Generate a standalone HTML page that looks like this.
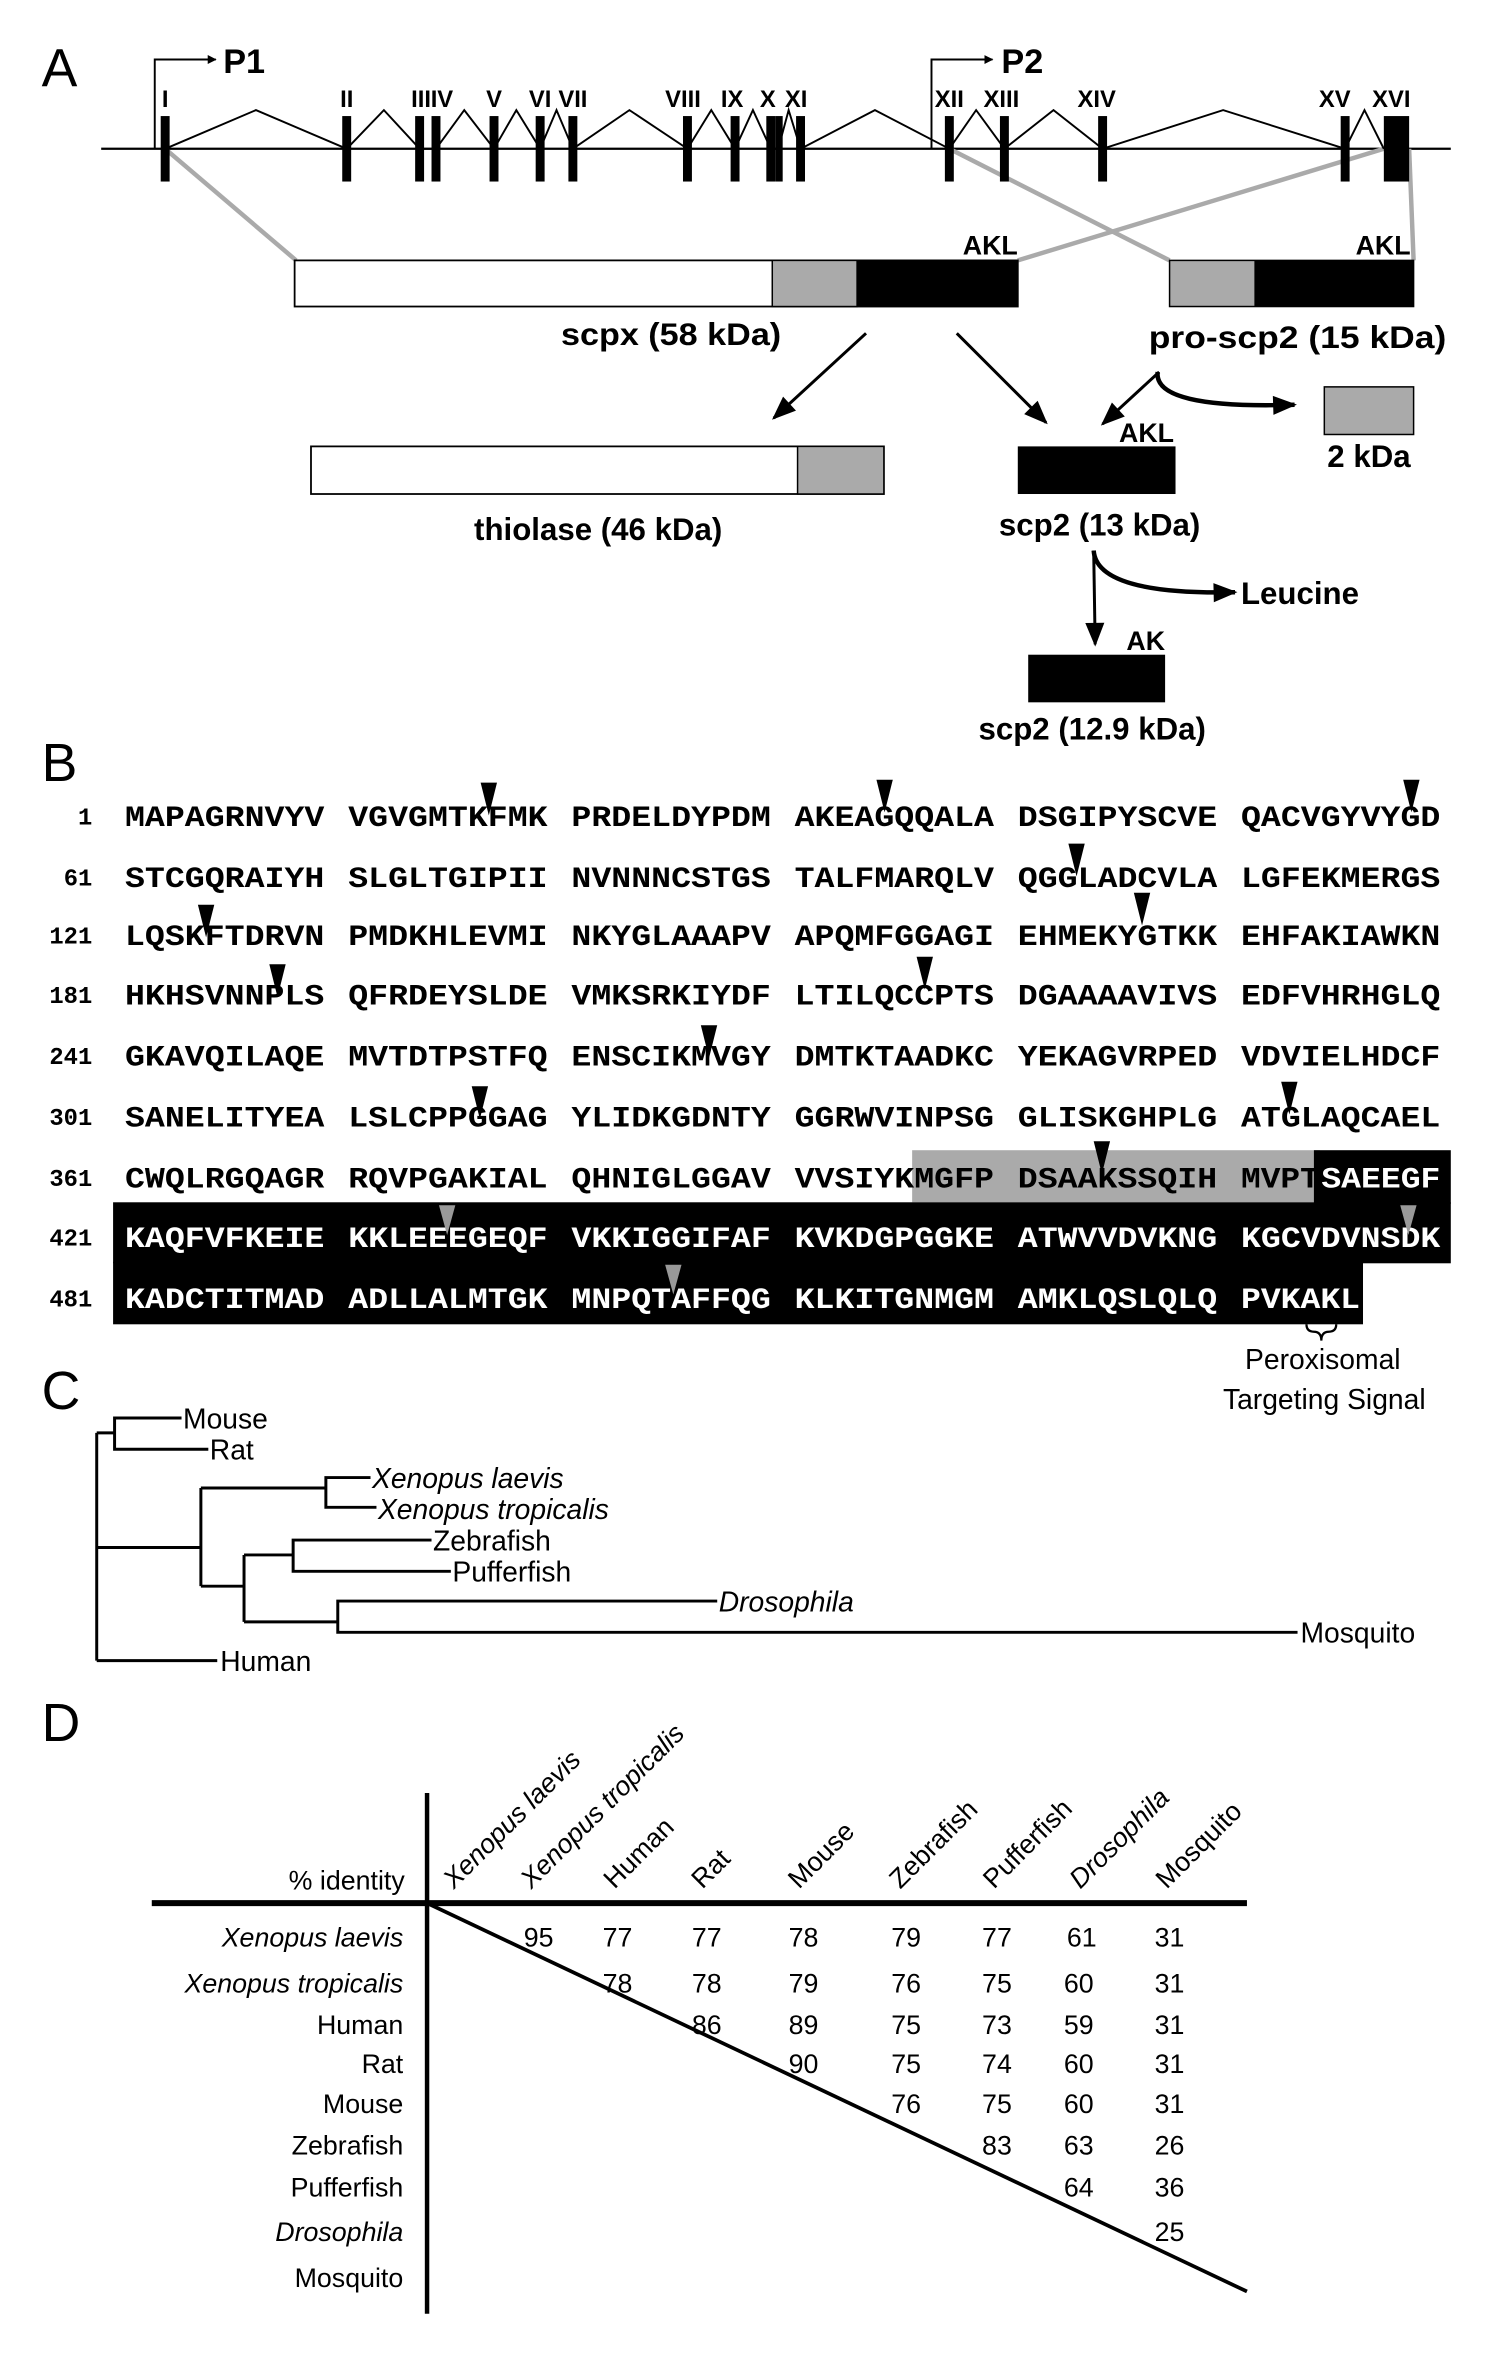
<!DOCTYPE html>
<html><head><meta charset="utf-8">
<style>html,body{margin:0;padding:0;background:#fff}svg{display:block}</style>
</head><body>
<svg xmlns="http://www.w3.org/2000/svg" width="1488" height="2358" viewBox="0 0 1000 1584.7" preserveAspectRatio="none">
<defs>
<marker id="ah" viewBox="0 0 10 10" refX="9" refY="5" markerWidth="6" markerHeight="6" orient="auto" markerUnits="userSpaceOnUse"><path d="M0,0 L10,5 L0,10 z" fill="#000"/></marker>
<marker id="ab" viewBox="0 0 10 10" refX="9" refY="5" markerWidth="20" markerHeight="16" orient="auto" markerUnits="userSpaceOnUse"><path d="M0,1 L10,5 L0,9 z" fill="#000"/></marker>
</defs>
<g font-family="Liberation Sans, sans-serif">
<!-- Panel A -->
<text x="28" y="58" font-size="36">A</text>
<line x1="68" y1="100" x2="975" y2="100" stroke="#000" stroke-width="1.5"/>
<g stroke="#aaa" stroke-width="3">
<line x1="111" y1="100" x2="199" y2="175"/>
<line x1="638" y1="100" x2="786" y2="175"/>
<line x1="930" y1="100" x2="684" y2="175"/>
<line x1="947" y1="100" x2="950" y2="175"/>
</g>
<polyline fill="none" stroke="#000" stroke-width="1.3" points="111,100 172,74 233,100 258,74 282,100 287,100 293,100 312,74 332,100 347,74 363,100 374,74 385,100 423,74 462,100 478,74 494,100 506,74 518,100 523,100 530,74 538,100 588,74 638,100 656,74 675,100 708,74 741,100 822,74 904,100 917,74 930,100"/>
<g fill="#000">
<rect x="108" y="78" width="6" height="44"/><rect x="230" y="78" width="6" height="44"/>
<rect x="279" y="78" width="6" height="44"/><rect x="290" y="78" width="6" height="44"/>
<rect x="329" y="78" width="6" height="44"/><rect x="360" y="78" width="6" height="44"/>
<rect x="382" y="78" width="6" height="44"/><rect x="459" y="78" width="6" height="44"/>
<rect x="491" y="78" width="6" height="44"/><rect x="515" y="78" width="6" height="44"/>
<rect x="521" y="78" width="5" height="44"/><rect x="535" y="78" width="6" height="44"/>
<rect x="635" y="78" width="6" height="44"/><rect x="672" y="78" width="6" height="44"/>
<rect x="738" y="78" width="6" height="44"/><rect x="901" y="78" width="6" height="44"/>
<rect x="930" y="78" width="17" height="44"/>
</g>
<g font-size="16" font-weight="bold" text-anchor="middle">
<text x="111" y="72">I</text><text x="233" y="72">II</text><text x="283" y="72">III</text><text x="297" y="72">IV</text>
<text x="332" y="72">V</text><text x="363" y="72">VI</text><text x="385" y="72">VII</text><text x="459" y="72">VIII</text>
<text x="492" y="72">IX</text><text x="516" y="72">X</text><text x="535" y="72">XI</text><text x="638" y="72">XII</text>
<text x="673" y="72">XIII</text><text x="737" y="72">XIV</text><text x="897" y="72">XV</text><text x="935" y="72">XVI</text>
</g>
<polyline points="104,100 104,40 145,40" fill="none" stroke="#000" stroke-width="1.3" marker-end="url(#ah)"/>
<text x="150" y="49" font-size="23" font-weight="bold">P1</text>
<polyline points="626,100 626,40 667,40" fill="none" stroke="#000" stroke-width="1.3" marker-end="url(#ah)"/>
<text x="673" y="49" font-size="23" font-weight="bold">P2</text>
<rect x="198" y="175" width="486" height="31" fill="#fff" stroke="#000" stroke-width="1.2"/>
<rect x="519" y="175" width="57" height="31" fill="#aaa" stroke="#000" stroke-width="1"/>
<rect x="576" y="175" width="108" height="31" fill="#000"/>
<text x="684" y="171" font-size="18" font-weight="bold" text-anchor="end">AKL</text>
<rect x="786" y="175" width="164" height="31" fill="#aaa" stroke="#000" stroke-width="1"/>
<rect x="843" y="175" width="107" height="31" fill="#000"/>
<text x="948" y="171" font-size="18" font-weight="bold" text-anchor="end">AKL</text>
<text x="377" y="232" font-size="21" font-weight="bold" textLength="148" lengthAdjust="spacingAndGlyphs">scpx (58 kDa)</text>
<text x="772" y="234" font-size="21" font-weight="bold" textLength="200" lengthAdjust="spacingAndGlyphs">pro-scp2  (15 kDa)</text>
<g stroke="#000" stroke-width="2" fill="none">
<line x1="582" y1="224" x2="520" y2="281" marker-end="url(#ab)"/>
<line x1="643" y1="224" x2="703" y2="284" marker-end="url(#ab)"/>
<line x1="779" y1="250" x2="741" y2="285" marker-end="url(#ab)"/>
<path d="M778,250 Q775,275 870,272" stroke-width="3" marker-end="url(#ab)"/>
<line x1="735" y1="370" x2="736" y2="433" marker-end="url(#ab)"/>
<path d="M735,370 Q737,400 830,398" stroke-width="3" marker-end="url(#ab)"/>
</g>
<rect x="890" y="260" width="60" height="32" fill="#aaa" stroke="#000" stroke-width="1"/>
<text x="920" y="314" font-size="21" font-weight="bold" text-anchor="middle">2 kDa</text>
<rect x="209" y="300" width="385" height="32" fill="#fff" stroke="#000" stroke-width="1.2"/>
<rect x="536" y="300" width="58" height="32" fill="#aaa" stroke="#000" stroke-width="1"/>
<text x="402" y="363" font-size="21" font-weight="bold" text-anchor="middle">thiolase (46 kDa)</text>
<rect x="684" y="300" width="106" height="32" fill="#000"/>
<text x="789" y="297" font-size="18" font-weight="bold" text-anchor="end">AKL</text>
<text x="739" y="360" font-size="21" font-weight="bold" text-anchor="middle">scp2 (13 kDa)</text>
<text x="834" y="406" font-size="21" font-weight="bold">Leucine</text>
<rect x="691" y="440" width="92" height="32" fill="#000"/>
<text x="783" y="437" font-size="18" font-weight="bold" text-anchor="end">AK</text>
<text x="734" y="497" font-size="21" font-weight="bold" text-anchor="middle">scp2 (12.9 kDa)</text>

<!-- Panel B -->
<text x="28" y="525" font-size="36">B</text>
<rect x="613" y="773" width="274" height="35" fill="#aaa"/>
<rect x="883" y="773" width="92" height="36" fill="#000"/>
<rect x="76" y="808" width="899" height="41" fill="#000"/>
<rect x="76" y="848" width="840" height="42" fill="#000"/>
<g font-family="Liberation Mono, monospace" font-weight="bold" font-size="20" lengthAdjust="spacingAndGlyphs">
<g text-anchor="end" font-size="16">
<text x="62" y="554">1</text><text x="62" y="595">61</text><text x="62" y="634">121</text><text x="62" y="674">181</text><text x="62" y="715">241</text><text x="62" y="756">301</text><text x="62" y="797">361</text><text x="62" y="837">421</text><text x="62" y="878">481</text>
</g>
<text x="84" y="555" textLength="134" lengthAdjust="spacingAndGlyphs">MAPAGRNVYV</text><text x="234" y="555" textLength="134" lengthAdjust="spacingAndGlyphs">VGVGMTKFMK</text><text x="384" y="555" textLength="134" lengthAdjust="spacingAndGlyphs">PRDELDYPDM</text><text x="534" y="555" textLength="134" lengthAdjust="spacingAndGlyphs">AKEAGQQALA</text><text x="684" y="555" textLength="134" lengthAdjust="spacingAndGlyphs">DSGIPYSCVE</text><text x="834" y="555" textLength="134" lengthAdjust="spacingAndGlyphs">QACVGYVYGD</text>
<text x="84" y="596" textLength="134" lengthAdjust="spacingAndGlyphs">STCGQRAIYH</text><text x="234" y="596" textLength="134" lengthAdjust="spacingAndGlyphs">SLGLTGIPII</text><text x="384" y="596" textLength="134" lengthAdjust="spacingAndGlyphs">NVNNNCSTGS</text><text x="534" y="596" textLength="134" lengthAdjust="spacingAndGlyphs">TALFMARQLV</text><text x="684" y="596" textLength="134" lengthAdjust="spacingAndGlyphs">QGGLADCVLA</text><text x="834" y="596" textLength="134" lengthAdjust="spacingAndGlyphs">LGFEKMERGS</text>
<text x="84" y="635" textLength="134" lengthAdjust="spacingAndGlyphs">LQSKFTDRVN</text><text x="234" y="635" textLength="134" lengthAdjust="spacingAndGlyphs">PMDKHLEVMI</text><text x="384" y="635" textLength="134" lengthAdjust="spacingAndGlyphs">NKYGLAAAPV</text><text x="534" y="635" textLength="134" lengthAdjust="spacingAndGlyphs">APQMFGGAGI</text><text x="684" y="635" textLength="134" lengthAdjust="spacingAndGlyphs">EHMEKYGTKK</text><text x="834" y="635" textLength="134" lengthAdjust="spacingAndGlyphs">EHFAKIAWKN</text>
<text x="84" y="675" textLength="134" lengthAdjust="spacingAndGlyphs">HKHSVNNPLS</text><text x="234" y="675" textLength="134" lengthAdjust="spacingAndGlyphs">QFRDEYSLDE</text><text x="384" y="675" textLength="134" lengthAdjust="spacingAndGlyphs">VMKSRKIYDF</text><text x="534" y="675" textLength="134" lengthAdjust="spacingAndGlyphs">LTILQCCPTS</text><text x="684" y="675" textLength="134" lengthAdjust="spacingAndGlyphs">DGAAAAVIVS</text><text x="834" y="675" textLength="134" lengthAdjust="spacingAndGlyphs">EDFVHRHGLQ</text>
<text x="84" y="716" textLength="134" lengthAdjust="spacingAndGlyphs">GKAVQILAQE</text><text x="234" y="716" textLength="134" lengthAdjust="spacingAndGlyphs">MVTDTPSTFQ</text><text x="384" y="716" textLength="134" lengthAdjust="spacingAndGlyphs">ENSCIKMVGY</text><text x="534" y="716" textLength="134" lengthAdjust="spacingAndGlyphs">DMTKTAADKC</text><text x="684" y="716" textLength="134" lengthAdjust="spacingAndGlyphs">YEKAGVRPED</text><text x="834" y="716" textLength="134" lengthAdjust="spacingAndGlyphs">VDVIELHDCF</text>
<text x="84" y="757" textLength="134" lengthAdjust="spacingAndGlyphs">SANELITYEA</text><text x="234" y="757" textLength="134" lengthAdjust="spacingAndGlyphs">LSLCPPGGAG</text><text x="384" y="757" textLength="134" lengthAdjust="spacingAndGlyphs">YLIDKGDNTY</text><text x="534" y="757" textLength="134" lengthAdjust="spacingAndGlyphs">GGRWVINPSG</text><text x="684" y="757" textLength="134" lengthAdjust="spacingAndGlyphs">GLISKGHPLG</text><text x="834" y="757" textLength="134" lengthAdjust="spacingAndGlyphs">ATGLAQCAEL</text>
<text x="84" y="798" textLength="134" lengthAdjust="spacingAndGlyphs">CWQLRGQAGR</text><text x="234" y="798" textLength="134" lengthAdjust="spacingAndGlyphs">RQVPGAKIAL</text><text x="384" y="798" textLength="134" lengthAdjust="spacingAndGlyphs">QHNIGLGGAV</text><text x="534" y="798" textLength="134" lengthAdjust="spacingAndGlyphs">VVSIYKMGFP</text><text x="684" y="798" textLength="134" lengthAdjust="spacingAndGlyphs">DSAAKSSQIH</text><text x="834" y="798" textLength="53" lengthAdjust="spacingAndGlyphs">MVPT</text><text x="888" y="798" textLength="80" lengthAdjust="spacingAndGlyphs" fill="#fff">SAEEGF</text>
<g fill="#fff">
<text x="84" y="838" textLength="134" lengthAdjust="spacingAndGlyphs">KAQFVFKEIE</text><text x="234" y="838" textLength="134" lengthAdjust="spacingAndGlyphs">KKLEEEGEQF</text><text x="384" y="838" textLength="134" lengthAdjust="spacingAndGlyphs">VKKIGGIFAF</text><text x="534" y="838" textLength="134" lengthAdjust="spacingAndGlyphs">KVKDGPGGKE</text><text x="684" y="838" textLength="134" lengthAdjust="spacingAndGlyphs">ATWVVDVKNG</text><text x="834" y="838" textLength="134" lengthAdjust="spacingAndGlyphs">KGCVDVNSDK</text>
<text x="84" y="879" textLength="134" lengthAdjust="spacingAndGlyphs">KADCTITMAD</text><text x="234" y="879" textLength="134" lengthAdjust="spacingAndGlyphs">ADLLALMTGK</text><text x="384" y="879" textLength="134" lengthAdjust="spacingAndGlyphs">MNPQTAFFQG</text><text x="534" y="879" textLength="134" lengthAdjust="spacingAndGlyphs">KLKITGNMGM</text><text x="684" y="879" textLength="134" lengthAdjust="spacingAndGlyphs">AMKLQSLQLQ</text><text x="834" y="879" textLength="80" lengthAdjust="spacingAndGlyphs">PVKAKL</text>
</g>
</g>
<g fill="#000">
<path d="M323,526 h11 l-5.5,22 z"/><path d="M589,524 h11 l-5.5,22 z"/><path d="M943,524 h11 l-5.5,22 z"/>
<path d="M718,567 h11 l-5.5,22 z"/>
<path d="M133,608 h11 l-5.5,22 z"/><path d="M762,600 h11 l-5.5,22 z"/>
<path d="M181,648 h11 l-5.5,22 z"/><path d="M616,643 h11 l-5.5,22 z"/>
<path d="M471,689 h11 l-5.5,22 z"/>
<path d="M317,730 h11 l-5.5,22 z"/><path d="M861,727 h11 l-5.5,22 z"/>
<path d="M735,767 h11 l-5.5,22 z"/>
</g>
<g fill="#999">
<path d="M295,810 h11 l-5.5,20 z"/><path d="M941,810 h11 l-5.5,20 z"/>
<path d="M447,850 h11 l-5.5,20 z"/>
</g>
<path d="M878,890 q0,5 5,5 q5,0 5,6 q0,-6 5,-6 q5,0 5,-5" fill="none" stroke="#000" stroke-width="1.5"/>
<text x="889" y="920" font-size="19" text-anchor="middle">Peroxisomal</text>
<text x="890" y="947" font-size="19" text-anchor="middle">Targeting Signal</text>

<!-- Panel C -->
<text x="28" y="947" font-size="36">C</text>
<g stroke="#000" stroke-width="2" fill="none">
<polyline points="122,953 77,953 77,974 140,974"/>
<line x1="65" y1="963" x2="77" y2="963"/>
<line x1="65" y1="963" x2="65" y2="1116"/>
<line x1="65" y1="1116" x2="146" y2="1116"/>
<line x1="65" y1="1040" x2="135" y2="1040"/>
<line x1="135" y1="1000" x2="135" y2="1066"/>
<line x1="135" y1="1000" x2="219" y2="1000"/>
<polyline points="249,993 219,993 219,1013 253,1013"/>
<line x1="135" y1="1066" x2="164" y2="1066"/>
<line x1="164" y1="1045" x2="164" y2="1090"/>
<line x1="164" y1="1045" x2="197" y2="1045"/>
<polyline points="290,1035 197,1035 197,1056 303,1056"/>
<line x1="164" y1="1090" x2="227" y2="1090"/>
<polyline points="482,1076 227,1076 227,1097 872,1097"/>
</g>
<g font-size="19">
<text x="123" y="960">Mouse</text>
<text x="141" y="981">Rat</text>
<text x="250" y="1000" font-style="italic">Xenopus laevis</text>
<text x="254" y="1021" font-style="italic">Xenopus tropicalis</text>
<text x="291" y="1042">Zebrafish</text>
<text x="304" y="1063">Pufferfish</text>
<text x="483" y="1083" font-style="italic">Drosophila</text>
<text x="874" y="1104">Mosquito</text>
<text x="148" y="1123">Human</text>
</g>

<!-- Panel D -->
<text x="28" y="1170" font-size="36">D</text>
<line x1="287" y1="1205" x2="287" y2="1555" stroke="#000" stroke-width="3"/>
<line x1="102" y1="1279" x2="838" y2="1279" stroke="#000" stroke-width="4"/>
<line x1="287" y1="1279" x2="838" y2="1540" stroke="#000" stroke-width="2.5"/>
<g font-size="18">
<text x="272" y="1270" text-anchor="end">% identity</text>
<text transform="translate(305,1270) rotate(-45)" font-style="italic">Xenopus laevis</text>
<text transform="translate(357,1270) rotate(-45)" font-style="italic">Xenopus tropicalis</text>
<text transform="translate(413,1270) rotate(-45)">Human</text>
<text transform="translate(472,1270) rotate(-45)">Rat</text>
<text transform="translate(537,1270) rotate(-45)">Mouse</text>
<text transform="translate(605,1270) rotate(-45)">Zebrafish</text>
<text transform="translate(668,1270) rotate(-45)">Pufferfish</text>
<text transform="translate(726,1270) rotate(-45)" font-style="italic">Drosophila</text>
<text transform="translate(784,1270) rotate(-45)">Mosquito</text>
<g text-anchor="end">
<text x="271" y="1308" font-style="italic">Xenopus laevis</text>
<text x="271" y="1339" font-style="italic">Xenopus tropicalis</text>
<text x="271" y="1367">Human</text>
<text x="271" y="1393">Rat</text>
<text x="271" y="1420">Mouse</text>
<text x="271" y="1448">Zebrafish</text>
<text x="271" y="1476">Pufferfish</text>
<text x="271" y="1506" font-style="italic">Drosophila</text>
<text x="271" y="1537">Mosquito</text>
</g>
<g text-anchor="middle">
<text y="1308"><tspan x="362">95</tspan><tspan x="415">77</tspan><tspan x="475">77</tspan><tspan x="540">78</tspan><tspan x="609">79</tspan><tspan x="670">77</tspan><tspan x="727">61</tspan><tspan x="786">31</tspan></text>
<text y="1339"><tspan x="415">78</tspan><tspan x="475">78</tspan><tspan x="540">79</tspan><tspan x="609">76</tspan><tspan x="670">75</tspan><tspan x="725">60</tspan><tspan x="786">31</tspan></text>
<text y="1367"><tspan x="475">86</tspan><tspan x="540">89</tspan><tspan x="609">75</tspan><tspan x="670">73</tspan><tspan x="725">59</tspan><tspan x="786">31</tspan></text>
<text y="1393"><tspan x="540">90</tspan><tspan x="609">75</tspan><tspan x="670">74</tspan><tspan x="725">60</tspan><tspan x="786">31</tspan></text>
<text y="1420"><tspan x="609">76</tspan><tspan x="670">75</tspan><tspan x="725">60</tspan><tspan x="786">31</tspan></text>
<text y="1448"><tspan x="670">83</tspan><tspan x="725">63</tspan><tspan x="786">26</tspan></text>
<text y="1476"><tspan x="725">64</tspan><tspan x="786">36</tspan></text>
<text y="1506"><tspan x="786">25</tspan></text>
</g>
</g>
</g>
</svg>
</body></html>
